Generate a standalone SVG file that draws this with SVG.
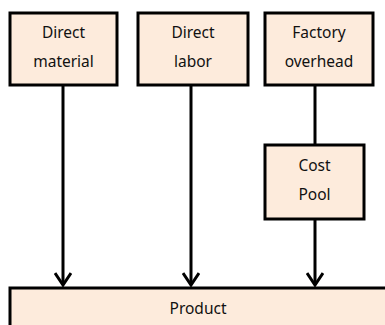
<svg xmlns="http://www.w3.org/2000/svg" width="385" height="325" viewBox="0 0 385 325">
  <style>
    .box { fill: #fdebdc; stroke: #000; stroke-width: 3; }
    .lbl { font-family: "Noto Sans", "DejaVu Sans", sans-serif; font-size: 15.5px; fill: #111; text-anchor: middle; }
    .wire { stroke: #000; stroke-width: 3; fill: none; }
  </style>
  <defs>
    <!-- open V arrowhead, tip at the line end -->
    <marker id="arrow" markerWidth="15" markerHeight="18" refX="13" refY="9" markerUnits="userSpaceOnUse" orient="auto" viewBox="0 0 15 18">
      <path d="M1,1 L13,9 L1,17" fill="none" stroke="#000" stroke-width="3" stroke-linejoin="miter"/>
    </marker>
  </defs>
  <rect width="385" height="325" fill="#fff"/>

  <g id="connectors">
    <line class="wire" x1="63" y1="86" x2="63" y2="285" marker-end="url(#arrow)"/>
    <line class="wire" x1="191" y1="86" x2="191" y2="285" marker-end="url(#arrow)"/>
    <line class="wire" x1="315" y1="86" x2="315" y2="145"/>
    <line class="wire" x1="315" y1="219" x2="315" y2="285" marker-end="url(#arrow)"/>
  </g>

  <g id="direct-material">
    <rect class="box" x="10" y="13" width="107" height="72"/>
    <text class="lbl" x="63.5" y="38">Direct</text>
    <text class="lbl" x="63.5" y="67">material</text>
  </g>

  <g id="direct-labor">
    <rect class="box" x="138" y="13" width="110" height="72"/>
    <text class="lbl" x="193" y="38">Direct</text>
    <text class="lbl" x="193" y="67">labor</text>
  </g>

  <g id="factory-overhead">
    <rect class="box" x="265" y="13" width="108" height="72"/>
    <text class="lbl" x="319" y="38">Factory</text>
    <text class="lbl" x="319" y="67">overhead</text>
  </g>

  <g id="cost-pool">
    <rect class="box" x="265" y="145" width="99" height="74"/>
    <text class="lbl" x="314.5" y="171">Cost</text>
    <text class="lbl" x="314.5" y="200">Pool</text>
  </g>

  <g id="product">
    <rect class="box" x="10" y="288" width="385" height="50"/>
    <text class="lbl" x="198" y="314">Product</text>
  </g>
</svg>
